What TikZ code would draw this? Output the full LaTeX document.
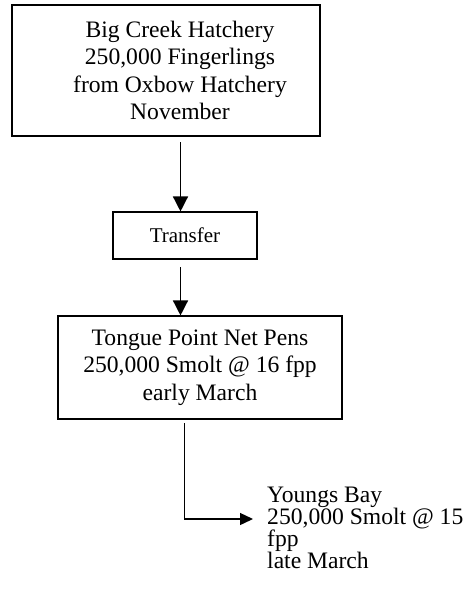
\documentclass[tikz,border=0pt]{standalone}
\usepackage{fontspec}
\setmainfont{Liberation Serif}
\usetikzlibrary{arrows.meta}
\begin{document}
\begin{tikzpicture}[x=1pt,y=-1pt,
  boxstyle/.style={draw, line width=1.1pt, inner sep=0pt, align=center},
  bigtext/.style={font=\fontsize{23.6}{27.3}\selectfont},
  conn/.style={line width=1.4pt},
  bigtip/.style={-{Triangle[width=15pt,length=15pt]}},
  smalltip/.style={-{Triangle[width=12pt,length=13pt]}}]
\useasboundingbox (0,0) rectangle (468,592);
\node[boxstyle, line width=1.7pt, minimum width=308pt, minimum height=131pt] (top) at (166,70.5) {};
\node[bigtext, align=center, inner sep=0pt] (toptext) at (180,70.5)
  {Big Creek Hatchery\\250,000 Fingerlings\\from Oxbow Hatchery\\November};
\node[boxstyle, font=\fontsize{21}{25}\selectfont, minimum width=144pt, minimum height=47pt] (transfer) at (185,235.5) {Transfer};
\node[boxstyle, bigtext, minimum width=284pt, minimum height=103pt] (tongue) at (200,367.5)
  {Tongue Point Net Pens\\250,000 Smolt @ 16 fpp\\early March};
\node[font=\fontsize{23.6}{21.8}\selectfont, align=left, anchor=west, inner sep=0pt] (youngs) at (267,528)
  {Youngs Bay\\250,000 Smolt @ 15\\fpp\\late March};
\coordinate (a1s) at (180.5,142);
\coordinate (a2s) at (180.5,267);
\coordinate (a3s) at (184.5,423);
\coordinate (a3e) at (253,519);
\draw[conn, bigtip] (a1s) -- (a1s |- transfer.north);
\draw[conn, bigtip] (a2s) -- (a2s |- tongue.north);
\draw[conn, smalltip] (a3s) |- (a3e);
\end{tikzpicture}
\end{document}
